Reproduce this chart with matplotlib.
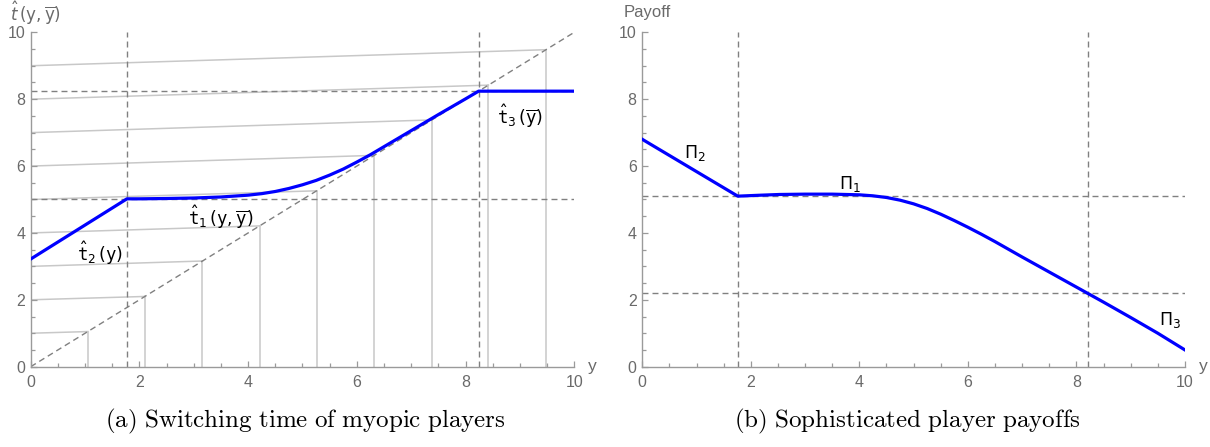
import matplotlib.pyplot as plt
from matplotlib.ticker import MultipleLocator

plt.rcParams['font.family'] = ['Liberation Sans', 'DejaVu Sans']

# (a) switching time of myopic players
t_y = [0, 1.77, 2.0, 2.5, 3.0, 3.5, 4.0, 4.25, 4.5, 4.75, 5.0, 5.25, 5.5,
       5.75, 6.0, 6.25, 6.5, 7.0, 7.5, 8.0, 8.24, 10]
t_val = [3.22, 5.02, 5.02, 5.03, 5.045, 5.075, 5.13, 5.175, 5.24, 5.33, 5.44,
         5.57, 5.73, 5.91, 6.12, 6.34, 6.58, 7.06, 7.54, 8.01, 8.24, 8.24]
myopic_start = [1, 2, 3, 4, 5, 6, 7, 8, 9]
myopic_hit = [1.05, 2.10, 3.16, 4.21, 5.26, 6.32, 7.38, 8.42, 9.48]
t_cut_y = [1.77, 8.24]
t_cut_t = [5.0, 8.24]

# (b) sophisticated player payoffs
pay_y = [0, 1.76, 2.2, 2.53, 3.0, 3.5, 3.75, 4.0, 4.25, 4.5, 4.75, 5.0, 5.25,
         5.5, 5.75, 6.0, 6.25, 6.5, 6.75, 7.0, 7.5, 8.0, 8.5, 9.0, 9.5, 10]
pay_val = [6.80, 5.10, 5.13, 5.15, 5.16, 5.16, 5.15, 5.14, 5.11, 5.06, 4.98,
           4.87, 4.73, 4.56, 4.37, 4.17, 3.96, 3.74, 3.51, 3.28, 2.83, 2.38,
           1.93, 1.47, 1.00, 0.50]
pay_cut_y = [1.76, 8.22]
pay_levels = [5.11, 2.19]

blue = '#0000ff'
dash_col = '#808080'
dash = (0, (4.3, 2.9))
axis_col = '#9a9a9a'
label_col = '#6a6a6a'


def style_axes(ax):
    ax.set_xlim(0, 10)
    ax.set_ylim(0, 10)
    for side in ['top', 'right']:
        ax.spines[side].set_visible(False)
    for side in ['left', 'bottom']:
        ax.spines[side].set_color(axis_col)
        ax.spines[side].set_linewidth(1.0)
    ax.xaxis.set_major_locator(MultipleLocator(2))
    ax.xaxis.set_minor_locator(MultipleLocator(0.5))
    ax.yaxis.set_major_locator(MultipleLocator(2))
    ax.yaxis.set_minor_locator(MultipleLocator(0.5))
    ax.tick_params(which='both', direction='in', color=axis_col,
                   labelcolor=label_col, labelsize=11.5, width=0.9)
    ax.tick_params(which='major', length=4.5)
    ax.tick_params(which='minor', length=3)
    ax.tick_params(axis='x', pad=6)
    ax.tick_params(axis='y', pad=4)
    ax.text(1.025, -0.012, 'y', transform=ax.transAxes, fontsize=12.5,
            color=label_col, va='baseline', ha='left')


fig = plt.figure(figsize=(12.1, 4.47), dpi=100)
ax1 = fig.add_axes([0.0254, 0.1797, 0.4492, 0.748])
ax2 = fig.add_axes([0.5308, 0.1797, 0.4485, 0.748])

# left panel
for s, h in zip(myopic_start, myopic_hit):
    ax1.plot([0, h], [s, h], color='#c8c8c8', lw=1.1, zorder=1)
    ax1.plot([h, h], [0, h], color='#c8c8c8', lw=1.1, zorder=1)
ax1.plot([0, 10], [0, 10], color=dash_col, lw=1.0, linestyle=dash, zorder=2)
for yc in t_cut_y:
    ax1.plot([yc, yc], [0, 10], color=dash_col, lw=1.0, linestyle=dash, zorder=2)
for tc in t_cut_t:
    ax1.plot([0, 10], [tc, tc], color=dash_col, lw=1.0, linestyle=dash, zorder=2)
ax1.plot(t_y, t_val, color=blue, lw=2.3, zorder=3, solid_joinstyle='round')
style_axes(ax1)

ax1.text(1.27, 3.4, r'$\hat{\mathtt{t}}_2\,(\mathtt{y})$', fontsize=12.5,
         math_fontfamily='dejavusans', ha='center', va='center')
ax1.text(3.5, 4.48, r'$\hat{\mathtt{t}}_1\,(\mathtt{y},\overline{\mathtt{y}})$',
         fontsize=12.5, math_fontfamily='dejavusans', ha='center', va='center')
ax1.text(9.0, 7.5, r'$\hat{\mathtt{t}}_3\,(\overline{\mathtt{y}})$', fontsize=12.5,
         math_fontfamily='dejavusans', ha='center', va='center')
ax1.text(-0.038, 1.058, r'$\hat{t}\,(\mathsf{y},\overline{\mathsf{y}})$',
         transform=ax1.transAxes, fontsize=12, color=label_col,
         math_fontfamily='dejavusans', ha='left', va='center')

# right panel
for yc in pay_cut_y:
    ax2.plot([yc, yc], [0, 10], color=dash_col, lw=1.0, linestyle=dash, zorder=2)
for lv in pay_levels:
    ax2.plot([0, 10], [lv, lv], color=dash_col, lw=1.0, linestyle=dash, zorder=2)
ax2.plot(pay_y, pay_val, color=blue, lw=2.3, zorder=3, solid_joinstyle='round')
style_axes(ax2)

ax2.text(0.97, 6.4, r'$\Pi_2$', fontsize=12.5, math_fontfamily='dejavusans',
         ha='center', va='center')
ax2.text(3.83, 5.47, r'$\Pi_1$', fontsize=12.5, math_fontfamily='dejavusans',
         ha='center', va='center')
ax2.text(9.73, 1.4, r'$\Pi_3$', fontsize=12.5, math_fontfamily='dejavusans',
         ha='center', va='center')
ax2.text(-0.035, 1.06, 'Payoff', transform=ax2.transAxes, fontsize=12,
         color=label_col, ha='left', va='center')

# captions
fig.text(0.252, 0.058, r'$\mathrm{(a)\ Switching\ time\ of\ myopic\ players}$',
         fontsize=18, math_fontfamily='cm', ha='center', va='center')
fig.text(0.750, 0.058, r'$\mathrm{(b)\ Sophisticated\ player\ payoffs}$',
         fontsize=18, math_fontfamily='cm', ha='center', va='center')

fig.savefig('out.png', dpi=100)
